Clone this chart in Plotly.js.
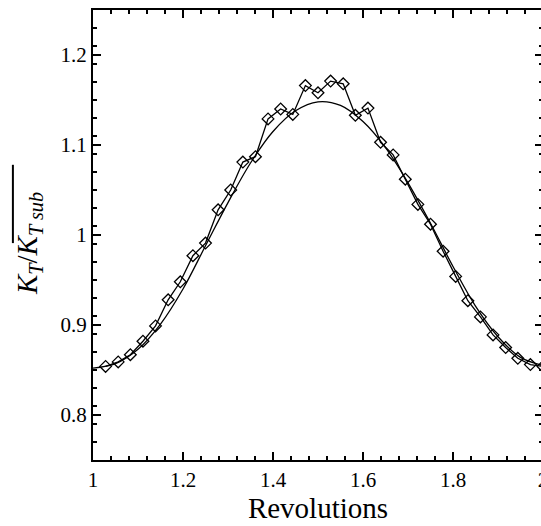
<!DOCTYPE html>
<html>
<head>
<meta charset="utf-8">
<script src="https://cdn.plot.ly/plotly-3.0.1.min.js"></script>
<style>
html,body{margin:0;padding:0;overflow:hidden;background:#fff;}
#chart{width:543px;height:526px;}
</style>
</head>
<body>
<div id="chart"></div>
<script>
// Measured thrust coefficient (diamonds)
const revMeasured = [1.028,1.056,1.083,1.111,1.139,1.167,1.194,1.222,1.250,1.278,1.306,1.333,1.361,1.389,1.417,1.444,1.472,1.500,1.528,1.556,1.583,1.611,1.639,1.667,1.694,1.722,1.750,1.778,1.806,1.833,1.861,1.889,1.917,1.944,1.972,2.000];
const ktMeasured = [0.854,0.859,0.867,0.882,0.899,0.928,0.948,0.977,0.991,1.028,1.050,1.081,1.087,1.129,1.140,1.134,1.166,1.158,1.171,1.168,1.133,1.141,1.103,1.089,1.062,1.034,1.012,0.982,0.954,0.927,0.909,0.889,0.875,0.863,0.856,0.854];
// Smooth reference curve
const revSmooth = [1.00,1.05,1.10,1.15,1.20,1.25,1.30,1.35,1.40,1.45,1.50,1.55,1.60,1.65,1.70,1.75,1.80,1.85,1.90,1.95,2.00];
const ktSmooth = [0.852,0.857,0.873,0.901,0.940,0.988,1.036,1.080,1.115,1.138,1.148,1.144,1.126,1.097,1.058,1.013,0.965,0.921,0.887,0.864,0.855];
const xTickVals = [1,1.2,1.4,1.6,1.8,2];
const xTickText = ['1','1.2','1.4','1.6','1.8','2'];
const yTickVals = [0.8,0.9,1,1.1,1.2];
const yTickText = ['0.8','0.9','1','1.1','1.2'];
const xTitle = 'Revolutions';
const yTitle = '<i>K</i><sub><i>T</i></sub>/<i>K</i><sub><i>T sub</i></sub>';

const FONT = 'Liberation Serif, Times New Roman, serif';

const traces = [
  {x: revSmooth, y: ktSmooth, mode: 'lines', line: {color: '#000', width: 1.3, shape: 'spline'}, showlegend: false, hoverinfo: 'skip'},
  {x: revMeasured, y: ktMeasured, mode: 'lines+markers', line: {color: '#000', width: 1.3},
   marker: {symbol: 'diamond-open', size: 9, color: '#000', line: {width: 1.3, color: '#000'}}, showlegend: false, cliponaxis: false}
];

const axisCommon = {
  showgrid: false, zeroline: false, showline: true, linecolor: '#000', linewidth: 2,
  mirror: 'ticks', ticks: 'inside', ticklen: 8, tickwidth: 1.5, tickcolor: '#000',
  tickfont: {family: FONT, size: 21, color: '#000'}, automargin: false, ticklabeloverflow: 'allow'
};

const layout = {
  width: 543, height: 526,
  margin: {l: 93, r: 0, t: 10, b: 66},
  paper_bgcolor: '#fff', plot_bgcolor: '#fff',
  font: {family: FONT, color: '#000'},
  xaxis: Object.assign({}, axisCommon, {
    range: [1, 2], tickmode: 'array', tickvals: xTickVals, ticktext: xTickText,
    minor: {dtick: 0.04, tick0: 1, ticks: 'inside', ticklen: 4, tickwidth: 1.2, tickcolor: '#000'},
    title: {text: xTitle, font: {family: FONT, size: 29, color: '#000'}, standoff: 4}
  }),
  yaxis: Object.assign({}, axisCommon, {
    range: [0.75, 1.25], tickmode: 'array', tickvals: yTickVals, ticktext: yTickText,
    minor: {dtick: 0.02, tick0: 0.75, ticks: 'inside', ticklen: 4, tickwidth: 1.2, tickcolor: '#000'}
  }),
  annotations: [
    {text: yTitle, textangle: -90, xref: 'paper', yref: 'paper', x: -0.142, y: 0.48,
     xanchor: 'center', yanchor: 'middle', showarrow: false, font: {family: FONT, size: 29, color: '#000'}}
  ],
  shapes: [
    {type: 'line', xref: 'paper', yref: 'paper', x0: -0.178, x1: -0.178, y0: 0.482, y1: 0.656, line: {color: '#000', width: 2}}
  ]
};

Plotly.newPlot('chart', traces, layout, {staticPlot: true, displayModeBar: false});
</script>
</body>
</html>
